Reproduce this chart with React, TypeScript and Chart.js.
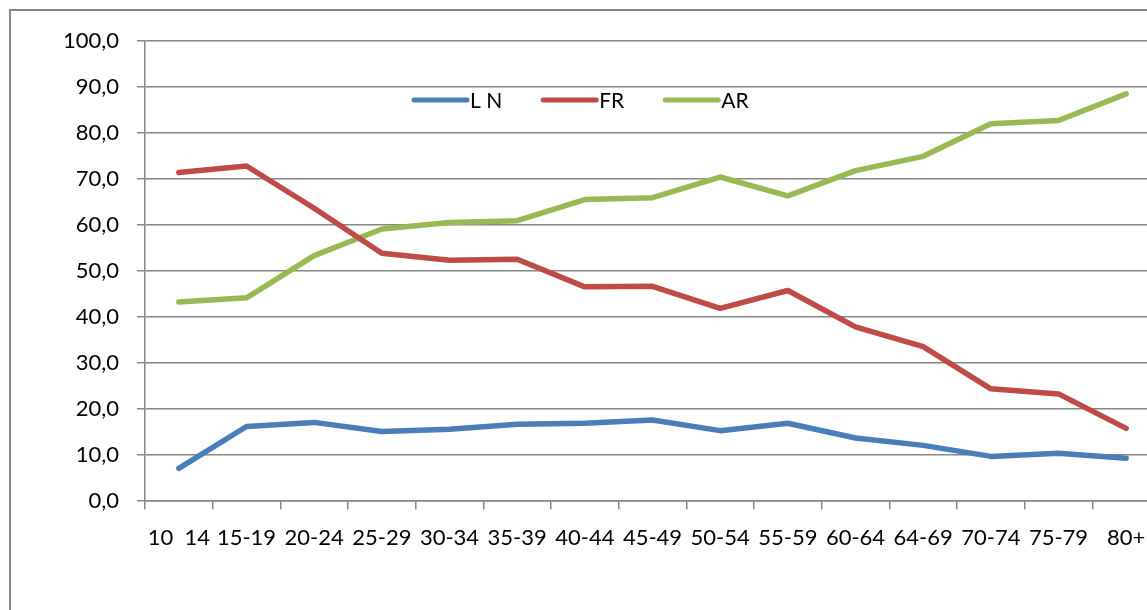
import React, { useEffect, useRef } from "react";
import { Chart, registerables } from "chart.js";

Chart.register(...registerables);

const categories = ["10  14", "15-19", "20-24", "25-29", "30-34", "35-39", "40-44", "45-49", "50-54", "55-59", "60-64", "64-69", "70-74", "75-79", "80+"];
const lnValues = [7.0, 16.1, 17.0, 15.0, 15.5, 16.6, 16.8, 17.5, 15.2, 16.8, 13.6, 12.0, 9.6, 10.3, 9.2];
const frValues = [71.4, 72.8, 63.6, 53.8, 52.3, 52.5, 46.5, 46.6, 41.8, 45.7, 37.8, 33.5, 24.3, 23.2, 15.7];
const arValues = [43.2, 44.1, 53.3, 59.1, 60.5, 60.9, 65.5, 65.9, 70.4, 66.3, 71.8, 74.9, 82.0, 82.7, 88.5];
const seriesNames = ["L N", "FR", "AR"];
const seriesColors = ["#4A7EBB", "#BE4B48", "#98B954"];
const yMin = 0;
const yMax = 100;
const yStep = 10;

const FONT = "Lato, 'Open Sans', sans-serif";
const AXIS = "#868686";

const legendPlugin = {
  id: "insideLegend",
  afterDatasetsDraw(chart: any) {
    const ctx = chart.ctx;
    ctx.save();
    ctx.font = `21px ${FONT}`;
    ctx.textBaseline = "middle";
    ctx.fillStyle = "#000";
    let x = 412;
    const y = 100;
    chart.data.datasets.forEach((ds: any) => {
      ctx.strokeStyle = ds.borderColor;
      ctx.lineWidth = 5;
      ctx.lineCap = "round";
      ctx.beginPath();
      ctx.moveTo(x + 2, y);
      ctx.lineTo(x + 55, y);
      ctx.stroke();
      ctx.fillText(ds.label, x + 58, y + 1);
      const w = ctx.measureText(ds.label).width;
      x = x + 58 + w + 39;
    });
    ctx.restore();
  },
};

export default function App() {
  const ref = useRef<HTMLCanvasElement>(null);

  useEffect(() => {
    if (!ref.current) return;
    const data = [lnValues, frValues, arValues];
    const chart = new Chart(ref.current, {
      type: "line",
      data: {
        labels: categories,
        datasets: seriesNames.map((name, i) => ({
          label: name,
          data: data[i],
          borderColor: seriesColors[i],
          backgroundColor: seriesColors[i],
          borderWidth: 5.5,
          pointRadius: 0,
          pointHoverRadius: 0,
          borderCapStyle: "round" as const,
          borderJoinStyle: "round" as const,
          tension: 0,
          fill: false,
        })),
      },
      options: {
        responsive: false,
        maintainAspectRatio: false,
        animation: false,
        layout: { padding: { left: 0, top: 41, right: 40, bottom: 0 } },
        plugins: {
          legend: { display: false },
          title: { display: false },
          tooltip: { enabled: false },
        },
        scales: {
          x: {
            type: "category",
            offset: true,
            grid: {
              offset: true,
              drawOnChartArea: false,
              drawTicks: true,
              tickLength: 9,
              color: AXIS,
              lineWidth: 1.5,
            },
            border: { color: AXIS, width: 1.5 },
            ticks: {
              color: "#000",
              font: { family: FONT, size: 22 },
              padding: 15,
              maxRotation: 0,
              autoSkip: false,
            },
            afterFit(scale: any) {
              scale.height = 139.5;
            },
          },
          y: {
            min: yMin,
            max: yMax,
            grid: {
              color: AXIS,
              lineWidth: 1.5,
              drawTicks: true,
              tickLength: 8,
            },
            border: { color: AXIS, width: 1.5 },
            ticks: {
              stepSize: yStep,
              color: "#000",
              font: { family: FONT, size: 22 },
              padding: 18,
              callback: (v: any) => Number(v).toFixed(1).replace(".", ","),
            },
            afterFit(scale: any) {
              scale.width = 145;
            },
          },
        },
      },
      plugins: [legendPlugin],
    });
    return () => chart.destroy();
  }, []);

  return (
    <div
      style={{
        position: "absolute",
        left: 0,
        top: 0,
        width: 1147,
        height: 610,
        overflow: "hidden",
        background: "#fff",
      }}
    >
      <div
        style={{
          position: "absolute",
          left: 9,
          top: 9,
          width: 1400,
          height: 800,
          border: `2px solid ${AXIS}`,
        }}
      />
      <canvas
        ref={ref}
        width={1200}
        height={640}
        style={{ position: "absolute", left: 0, top: 0, width: 1200, height: 640 }}
      />
    </div>
  );
}
